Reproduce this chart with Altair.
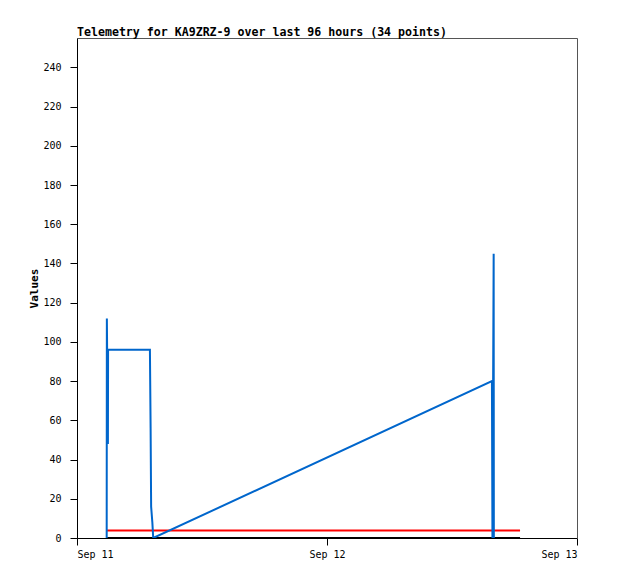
import altair as alt
import pandas as pd

# Blue telemetry series
blue_times = [
    "2024-09-11T02:51:00", "2024-09-11T02:52:00", "2024-09-11T02:58:00",
    "2024-09-11T02:59:00", "2024-09-11T07:00:00", "2024-09-11T07:04:00",
    "2024-09-11T07:07:00", "2024-09-11T07:14:00", "2024-09-11T07:19:00",
    "2024-09-12T15:50:00", "2024-09-12T15:53:00", "2024-09-12T16:00:00",
    "2024-09-12T16:01:00",
]
blue_values = [0, 112, 48, 96, 96, 56, 16, 8, 0, 80, 0, 145, 0]

# Red series
red_times = ["2024-09-11T02:52:00", "2024-09-12T18:32:00"]
red_values = [3.8, 3.8]

# Black series
black_times = ["2024-09-11T02:52:00", "2024-09-12T18:32:00"]
black_values = [0, 0]

y_ticks = [0, 20, 40, 60, 80, 100, 120, 140, 160, 180, 200, 220, 240]

rows = []
for name, ts, vs in [("black", black_times, black_values),
                     ("red", red_times, red_values),
                     ("blue", blue_times, blue_values)]:
    for i, (t, v) in enumerate(zip(ts, vs)):
        rows.append({"series": name, "time": t, "value": v, "idx": i})
df = pd.DataFrame(rows)

colors = {"black": "#000000", "red": "#FF0000", "blue": "#0066CC"}

x_scale = alt.Scale(domain=[alt.DateTime(year=2024, month=9, date=11),
                            alt.DateTime(year=2024, month=9, date=13)])
y_scale = alt.Scale(domain=[0, 255], nice=False)

x_axis = alt.Axis(
    values=[alt.DateTime(year=2024, month=9, date=11),
            alt.DateTime(year=2024, month=9, date=12),
            alt.DateTime(year=2024, month=9, date=13)],
    format="%b %d", title=None, grid=False, tickSize=7,
    labelPadding=4, domainColor="#000", tickColor="#000",
    labelColor="#000", labelFont="DejaVu Sans Mono", labelFontSize=10,
)
y_axis = alt.Axis(
    values=y_ticks, title="Values", grid=False, tickSize=7,
    labelPadding=9, domainColor="#000", tickColor="#000",
    labelColor="#000", labelFont="DejaVu Sans Mono", labelFontSize=10,
    titleFont="DejaVu Sans Mono", titleFontSize=11, titleFontWeight="bold",
    titleColor="#000", titlePadding=3,
)
x_frame = alt.Axis(orient="top", labels=False, ticks=False, title=None,
                   grid=False, domainColor="#555")
y_frame = alt.Axis(orient="right", labels=False, ticks=False, title=None,
                   grid=False, domainColor="#555")

frame = (
    alt.Chart(df[df.series == "black"])
    .mark_line(opacity=0)
    .encode(x=alt.X("time:T", scale=x_scale, axis=x_frame),
            y=alt.Y("value:Q", scale=y_scale, axis=y_frame))
)

layers = [frame]
for name in ["black", "red", "blue"]:
    first = name == "black"
    layers.append(
        alt.Chart(df[df.series == name])
        .mark_line(color=colors[name], strokeWidth=2, clip=True)
        .encode(
            x=alt.X("time:T", scale=x_scale, axis=x_axis if first else None),
            y=alt.Y("value:Q", scale=y_scale, axis=y_axis if first else None),
            order="idx:Q",
        )
    )

chart = (
    alt.layer(*layers)
    .resolve_axis(x="independent", y="independent")
    .properties(
        width=500, height=500,
        title=alt.TitleParams(
            "Telemetry for KA9ZRZ-9 over last 96 hours (34 points)",
            anchor="start", font="DejaVu Sans Mono", fontSize=11.6,
            fontWeight="bold", color="#000", offset=-10, baseline="alphabetic",
            frame="group",
        ),
        autosize=alt.AutoSizeParams(type="none"),
        padding={"left": 69, "top": 30, "right": 33, "bottom": 33},
    )
    .configure_view(strokeWidth=0)
    .configure(background="white")
)

chart.save("out.html", embed_options={"renderer": "svg", "actions": False})
